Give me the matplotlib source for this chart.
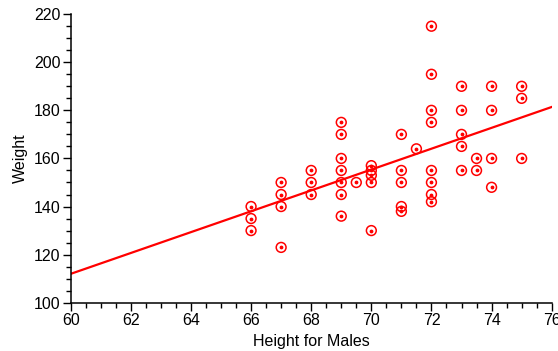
import numpy as np
import matplotlib.pyplot as plt
from matplotlib.ticker import MultipleLocator

plt.rcParams['font.family'] = ['Liberation Sans', 'DejaVu Sans']

# heights (inches) and weights (lb)
height = [66, 66, 66,
          67, 67, 67, 67,
          68, 68, 68,
          69, 69, 69, 69, 69, 69, 69,
          69.5,
          70, 70, 70, 70, 70,
          71, 71, 71, 71, 71,
          71.5,
          72, 72, 72, 72, 72, 72, 72, 72,
          73, 73, 73, 73, 73,
          73.5, 73.5,
          74, 74, 74, 74,
          75, 75, 75]
weight = [140, 135, 130,
          150, 145, 140, 123,
          155, 150, 145,
          175, 170, 160, 155, 150, 145, 136,
          150,
          157, 155, 153, 150, 130,
          170, 155, 150, 140, 138,
          164,
          215, 195, 180, 175, 155, 150, 145, 142,
          190, 180, 170, 165, 155,
          160, 155,
          190, 180, 160, 148,
          190, 185, 160]

# fitted line end points
fit_x = [60, 76]
fit_y = [112.0, 181.4]

fig = plt.figure(figsize=(5.58, 3.51), dpi=100)
ax = fig.add_axes([0.1267, 0.1376, 0.862, 0.822])

ax.plot(fit_x, fit_y, color='red', lw=1.6, zorder=2)
ax.scatter(height, weight, s=50, facecolors='none', edgecolors='red',
           linewidths=1.1, zorder=3, clip_on=False)
ax.scatter(height, weight, s=3, color='red', zorder=4, clip_on=False)

ax.set_xlim(60, 76)
ax.set_ylim(100, 220)
ax.xaxis.set_major_locator(MultipleLocator(2))
ax.xaxis.set_minor_locator(MultipleLocator(0.5))
ax.yaxis.set_major_locator(MultipleLocator(20))
ax.yaxis.set_minor_locator(MultipleLocator(5))
ax.tick_params(which='major', direction='out', length=6, width=1, labelsize=11.5, pad=1.5)
ax.tick_params(which='minor', direction='out', length=3.5, width=1)

for s in ['top', 'right']:
    ax.spines[s].set_visible(False)
for s in ['left', 'bottom']:
    ax.spines[s].set_linewidth(1.1)

ax.set_xlabel('Height for Males', fontsize=11.5, labelpad=4)
ax.set_ylabel('Weight', fontsize=11.5, labelpad=4)

fig.savefig('out.png', dpi=100)
